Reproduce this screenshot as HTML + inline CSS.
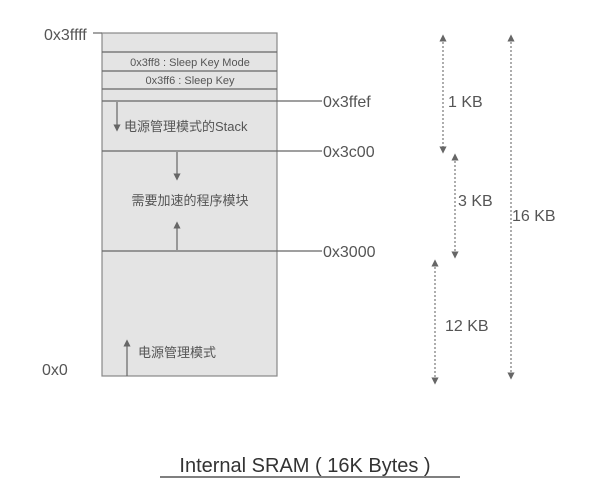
<!DOCTYPE html>
<html><head><meta charset="utf-8"><style>
body{margin:0;background:#fff;width:598px;height:503px;overflow:hidden}
svg{display:block}
text{font-family:"Liberation Sans","Noto Sans CJK SC",sans-serif;fill:#555}
</style></head><body>
<svg width="598" height="503" viewBox="0 0 598 503">
<defs>
<marker id="a" markerWidth="6" markerHeight="6" refX="3" refY="3" orient="auto-start-reverse"><path d="M0,0L6,3L0,6z" fill="#666"/></marker>
</defs>
<rect x="102" y="33" width="175" height="343" fill="#e4e4e4" stroke="#888" stroke-width="1.2"/>
<g stroke="#666" stroke-width="1.2">
<line x1="102" y1="52" x2="277" y2="52"/>
<line x1="102" y1="71" x2="277" y2="71"/>
<line x1="102" y1="89" x2="277" y2="89"/>
<line x1="102" y1="101" x2="322" y2="101"/>
<line x1="102" y1="151" x2="322" y2="151"/>
<line x1="102" y1="251" x2="322" y2="251"/>
<line x1="93" y1="33" x2="102" y2="33"/>
</g>
<g stroke="#666" stroke-width="1.2" marker-end="url(#a)">
<line x1="117" y1="102" x2="117" y2="128"/>
<line x1="177" y1="152" x2="177" y2="177"/>
<line x1="177" y1="250" x2="177" y2="225"/>
<line x1="127" y1="376" x2="127" y2="343"/>
</g>
<g font-size="11" text-anchor="middle">
<text x="190" y="66">0x3ff8 : Sleep Key Mode</text>
<text x="190" y="84">0x3ff6 : Sleep Key</text>
</g>
<text x="124" y="131" font-size="13">电源管理模式的Stack</text>
<text x="190" y="205" font-size="13" text-anchor="middle">需要加速的程序模块</text>
<text x="138" y="357" font-size="13">电源管理模式</text>
<g font-size="16">
<text x="44" y="40">0x3ffff</text>
<text x="323" y="107">0x3ffef</text>
<text x="323" y="157">0x3c00</text>
<text x="323" y="257">0x3000</text>
<text x="42" y="375">0x0</text>
<text x="448" y="107">1 KB</text>
<text x="458" y="206">3 KB</text>
<text x="512" y="221">16 KB</text>
<text x="445" y="331">12 KB</text>
</g>
<g stroke="#777" stroke-width="1.2" stroke-dasharray="2,2" marker-start="url(#a)" marker-end="url(#a)">
<line x1="443" y1="38" x2="443" y2="150"/>
<line x1="455" y1="157" x2="455" y2="255"/>
<line x1="435" y1="263" x2="435" y2="381"/>
<line x1="511" y1="38" x2="511" y2="376"/>
</g>
<text x="305" y="472" font-size="20" text-anchor="middle" style="fill:#333">Internal SRAM ( 16K Bytes )</text>
<line x1="160" y1="477" x2="460" y2="477" stroke="#333" stroke-width="1.2"/>
</svg>
</body></html>
